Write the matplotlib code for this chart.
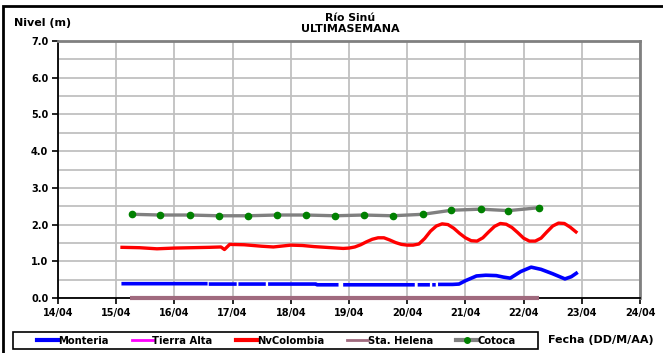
import matplotlib.pyplot as plt
import numpy as np
from matplotlib.lines import Line2D
from matplotlib.patches import Rectangle

plt.rcParams["font.family"] = ["DejaVu Sans"]
plt.rcParams["font.weight"] = "bold"

nan = np.nan

# dias de abril (fraccion de dia), niveles en metros
monteria_t = [15.09, 16.57, nan, 16.59, 17.07, nan, 17.10, 17.57, nan, 17.61, 18.43,
              18.45, 18.82, nan, 18.90, 19.5, 20.13, nan, 20.18, 20.39, nan, 20.43,
              20.49, nan, 20.53, 20.78, 20.89, 21.0, 21.19, 21.35, 21.53, 21.65, 21.77,
              21.95, 22.13, 22.3, 22.5, 22.71, 22.82, 22.93]
monteria_y = [0.39, 0.39, nan, 0.38, 0.38, nan, 0.38, 0.38, nan, 0.38, 0.38,
              0.36, 0.36, nan, 0.36, 0.36, 0.36, nan, 0.36, 0.36, nan, 0.36,
              0.36, nan, 0.37, 0.37, 0.38, 0.47, 0.60, 0.62, 0.61, 0.57, 0.54,
              0.72, 0.84, 0.78, 0.66, 0.52, 0.58, 0.70]

nvcol_t = [15.1, 15.4, 15.7, 16.0, 16.3, 16.6, 16.8, 16.86, 16.95, 17.2, 17.5, 17.7,
           18.0, 18.2, 18.4, 18.7, 18.9, 19.0, 19.1, 19.2, 19.3, 19.4, 19.5, 19.6,
           19.7, 19.8, 19.9, 20.0, 20.1, 20.2, 20.3, 20.4, 20.5, 20.6, 20.7, 20.8,
           20.9, 21.0, 21.1, 21.2, 21.3, 21.4, 21.5, 21.6, 21.7, 21.8, 21.9, 22.0,
           22.1, 22.2, 22.3, 22.4, 22.5, 22.6, 22.7, 22.8, 22.9]
nvcol_y = [1.38, 1.37, 1.34, 1.36, 1.37, 1.38, 1.39, 1.32, 1.46, 1.45, 1.41, 1.39,
           1.44, 1.43, 1.40, 1.37, 1.35, 1.36, 1.39, 1.45, 1.53, 1.60, 1.64, 1.64,
           1.58, 1.51, 1.46, 1.44, 1.44, 1.47, 1.62, 1.82, 1.96, 2.02, 2.00, 1.90,
           1.76, 1.64, 1.56, 1.55, 1.64, 1.80, 1.95, 2.03, 2.01, 1.92, 1.78, 1.63,
           1.55, 1.55, 1.63, 1.80, 1.96, 2.04, 2.03, 1.93, 1.80]

helena_t = [15.24, 22.27]
helena_y = [0.0, 0.0]

cotoca_t = [15.27, 15.76, 16.26, 16.76, 17.26, 17.76, 18.26, 18.76, 19.25, 19.75,
            20.27, 20.76, 21.26, 21.74, 22.27]
cotoca_y = [2.28, 2.26, 2.26, 2.24, 2.24, 2.26, 2.26, 2.24, 2.26, 2.24,
            2.28, 2.39, 2.42, 2.38, 2.46]

days = list(range(14, 25))
day_labels = [f"{d:02d}/04" for d in days]

W, H = 663, 353
fig = plt.figure(figsize=(W / 100, H / 100), dpi=100)
ax = fig.add_axes([58 / W, 55 / H, 582 / W, 257 / H])

ax.plot(monteria_t, monteria_y, color="#0000FF", lw=2.6, solid_capstyle="butt", zorder=4)
ax.plot(nvcol_t, nvcol_y, color="#FF0000", lw=2.4, zorder=4)
ax.plot(helena_t, helena_y, color="#A06A7E", lw=3.0, solid_capstyle="butt",
        zorder=5, clip_on=False)
ax.plot(cotoca_t, cotoca_y, color="#808080", lw=2.4, zorder=3)
ax.plot(cotoca_t, cotoca_y, ls="none", marker="o", ms=4.5, color="#008000", zorder=4)

ax.set_xlim(14, 24)
ax.set_ylim(0, 7)
ax.set_xticks(days)
ax.set_xticklabels(day_labels)
ax.set_yticks(np.arange(0, 8))
ax.set_yticklabels([f"{v:.1f}" for v in range(8)])
ax.set_yticks(np.arange(0.5, 7, 1), minor=True)
ax.tick_params(axis="both", labelsize=7, length=4, width=1.2, direction="out", pad=3)
ax.tick_params(axis="y", which="minor", length=0)
ax.grid(True, which="both", color="#C0C0C0", lw=1.3)
ax.set_axisbelow(True)

for side in ("top", "right"):
    ax.spines[side].set_color("#808080")
    ax.spines[side].set_linewidth(2)
for side in ("left", "bottom"):
    ax.spines[side].set_color("black")
    ax.spines[side].set_linewidth(1.3)

fig.text(14 / W, 1 - 23 / H, "Nivel (m)", fontsize=8, va="center")
fig.text(350 / W, 1 - 18 / H, "Río Sinú", fontsize=7.8, ha="center", va="center")
fig.text(350 / W, 1 - 29 / H, "ULTIMASEMANA", fontsize=8, ha="center", va="center")
fig.text(548 / W, 1 - 340 / H, "Fecha (DD/M/AA)", fontsize=8, va="center")

# marco exterior y recuadro de la leyenda
fig.add_artist(Rectangle((3 / W, -0.02), 1.0, 1 - 6 / H + 0.02,
                         transform=fig.transFigure, fill=False, ec="black", lw=2))
fig.add_artist(Rectangle((13 / W, 1 - 349 / H), 525 / W, 17 / H,
                         transform=fig.transFigure, fill=False, ec="black", lw=1.2))

handles = [
    Line2D([], [], color="#0000FF", lw=3),
    Line2D([], [], color="#FF00FF", lw=2),
    Line2D([], [], color="#FF0000", lw=3),
    Line2D([], [], color="#A06A7E", lw=2),
    Line2D([], [], color="#808080", lw=3, marker="o", ms=4, mfc="#008000", mec="#008000"),
]
names = ["Monteria", "Tierra Alta", "NvColombia", "Sta. Helena", "Cotoca"]
leg = fig.legend(handles, names, loc="center left", bbox_to_anchor=(37 / W, 1 - 340.5 / H),
                 ncol=5, fontsize=7.2, frameon=False, handlelength=2.1,
                 handletextpad=0.0, columnspacing=2.3, borderpad=0, borderaxespad=0)

fig.savefig("out.png", dpi=100)
